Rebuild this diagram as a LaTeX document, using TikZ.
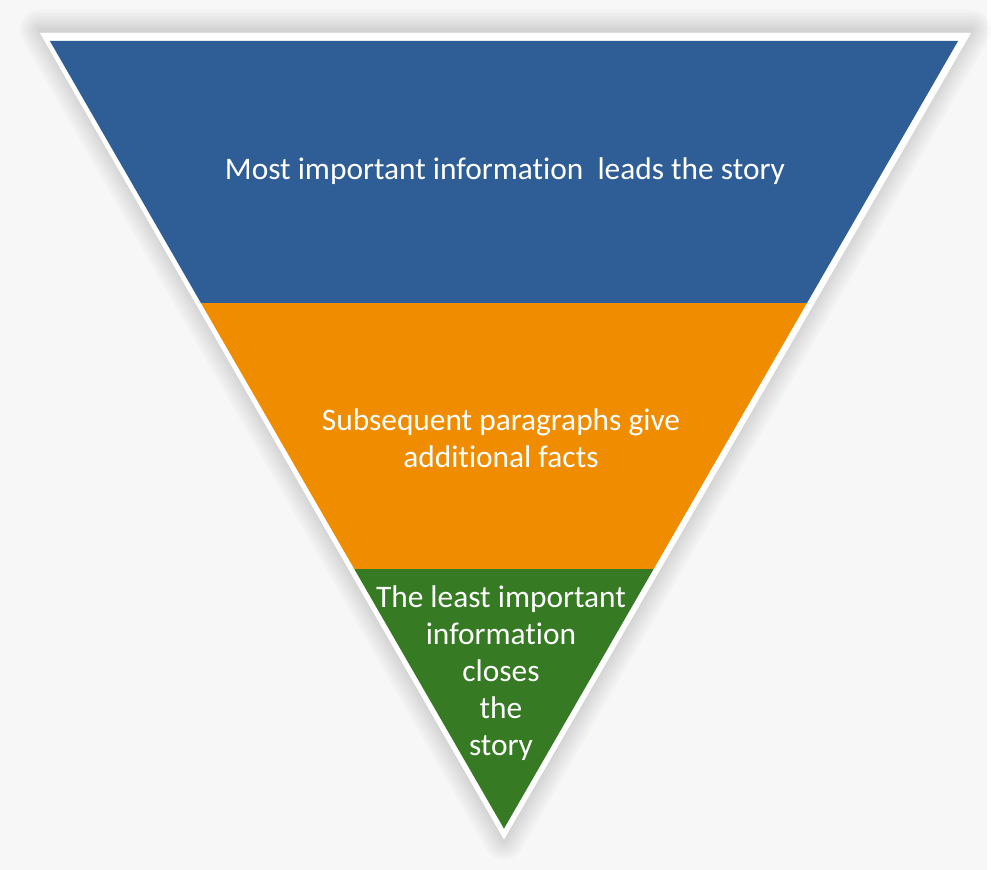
\documentclass[tikz,border=0pt]{standalone}
\usepackage{fontspec}
\setmainfont[Ligatures=NoCommon]{Carlito}
\usetikzlibrary{calc}
\definecolor{bgpaper}{HTML}{F7F7F7}
\definecolor{leadblue}{HTML}{2F5D96}
\definecolor{bodyorange}{HTML}{EF8C00}
\definecolor{tailgreen}{HTML}{367A23}

\begin{document}
\begin{tikzpicture}[
    x=1pt, y=-1pt,
    bandtext/.style={text=white, font=\fontsize{31.5}{37}\selectfont, align=center}
]
    % Background
    \fill[bgpaper] (0,0) rectangle (991,873);

    % Corners of the funnel
    \coordinate (otl) at (40,33);
    \coordinate (otr) at (975,33);
    \coordinate (oap) at (506,843);
    \coordinate (itl) at (50,41);
    \coordinate (itr) at (962,41);
    \coordinate (iap) at (506,832);

    % Soft shadow
    \foreach \w in {40,34,28,22,16,10,4} {
        \draw[black, opacity=0.018, line width=\w pt, line join=round]
            ($(otl)+(0,-3)$) -- ($(otr)+(0,-3)$) -- (oap) -- cycle;
    }

    % White frame
    \fill[white] (otl) -- (otr) -- (oap) -- cycle;

    % Bands
    \begin{scope}
        \clip (itl) -- (itr) -- (iap) -- cycle;
        \fill[leadblue] (0,0) rectangle (991,304);
        \fill[bodyorange] (0,304) rectangle (991,571);
        \fill[tailgreen] (0,571) rectangle (991,873);
    \end{scope}

    % Texts
    \node[bandtext] (lead) at (507,172) {Most important information~ leads the story};
    \node[bandtext] (body) at (503,440) {Subsequent paragraphs give\\additional facts};
    \node[bandtext] (tail) at (503,676) {The least important\\information\\closes\\the\\story};
\end{tikzpicture}
\end{document}
